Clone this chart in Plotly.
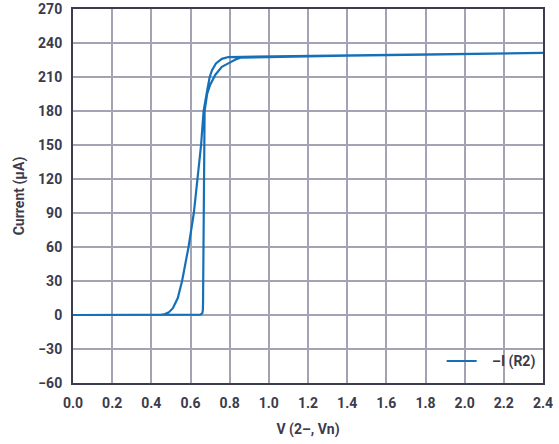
import plotly.graph_objects as go

# forward sweep (sharp turn-on near 0.665 V)
v_up = [0.0, 0.60, 0.650, 0.660, 0.663, 0.664, 0.665, 0.666, 0.668, 0.672,
        0.685, 0.70, 0.727, 0.76, 0.793, 0.83, 0.855, 1.0, 1.4, 1.8, 2.0, 2.4]
i_up = [0, 0, 0.3, 1.5, 4, 10, 40, 100, 150, 180,
        195, 203, 212, 219, 222, 225.5, 227, 227.6, 228.8, 229.8, 230.3, 231.2]

# return sweep (gradual turn-off)
v_down = [2.4, 2.0, 1.8, 1.4, 1.0, 0.855, 0.793, 0.76, 0.73, 0.71, 0.698,
          0.685, 0.667, 0.654, 0.634, 0.617, 0.59, 0.557, 0.535, 0.51, 0.49,
          0.47, 0.44, 0.0]
i_down = [231.2, 230.3, 229.8, 228.8, 227.6, 227.3, 227.6, 226, 222, 216, 210,
          198, 180, 150, 120, 90, 60, 30, 15, 6, 2.5, 0.8, 0, 0]

x_ticks = [0.0, 0.2, 0.4, 0.6, 0.8, 1.0, 1.2, 1.4, 1.6, 1.8, 2.0, 2.2, 2.4]
y_ticks = [-60, -30, 0, 30, 60, 90, 120, 150, 180, 210, 240, 270]

text_col = "#3b3b4b"
grid_col = "#a3a3b3"
frame_col = "#3c3c50"
bold = dict(family="Roboto", size=14, color=text_col, weight="bold")

fig = go.Figure()
fig.add_trace(go.Scatter(x=v_up + v_down, y=i_up + i_down, mode="lines",
                         name="\u00a0\u00a0\u00a0–I (R2)",
                         line=dict(color="#1670b8", width=2.2)))

fig.update_layout(
    width=559, height=444,
    margin=dict(l=73, r=16, t=9, b=61, autoexpand=False),
    paper_bgcolor="white", plot_bgcolor="white",
    font=bold,
    showlegend=True,
    legend=dict(x=0.995, y=0.015, xanchor="right", yanchor="bottom",
                bgcolor="rgba(0,0,0,0)", font=bold),
)
fig.update_xaxes(range=[0, 2.4], tickvals=x_ticks, tickformat=".1f",
                 showgrid=True, gridcolor=grid_col, gridwidth=1.5,
                 showline=True, linecolor=frame_col, linewidth=2, mirror=True,
                 zeroline=False, ticks="", ticklabelstandoff=6,
                 automargin=False, tickfont=bold,
                 title=dict(text="V (2–, Vn)", standoff=14, font=bold))
fig.update_yaxes(range=[-60, 270], tickvals=y_ticks,
                 showgrid=True, gridcolor=grid_col, gridwidth=1.5,
                 showline=True, linecolor=frame_col, linewidth=2, mirror=True,
                 zeroline=False, ticks="", ticklabelstandoff=6,
                 automargin=False, tickfont=bold,
                 title=dict(text="Current (µA)", standoff=10, font=bold))

# drop the default page margin so the figure sits at the window corner
fig.write_html("out.html", config={"displayModeBar": False},
               post_script="document.body.style.margin='0';")
